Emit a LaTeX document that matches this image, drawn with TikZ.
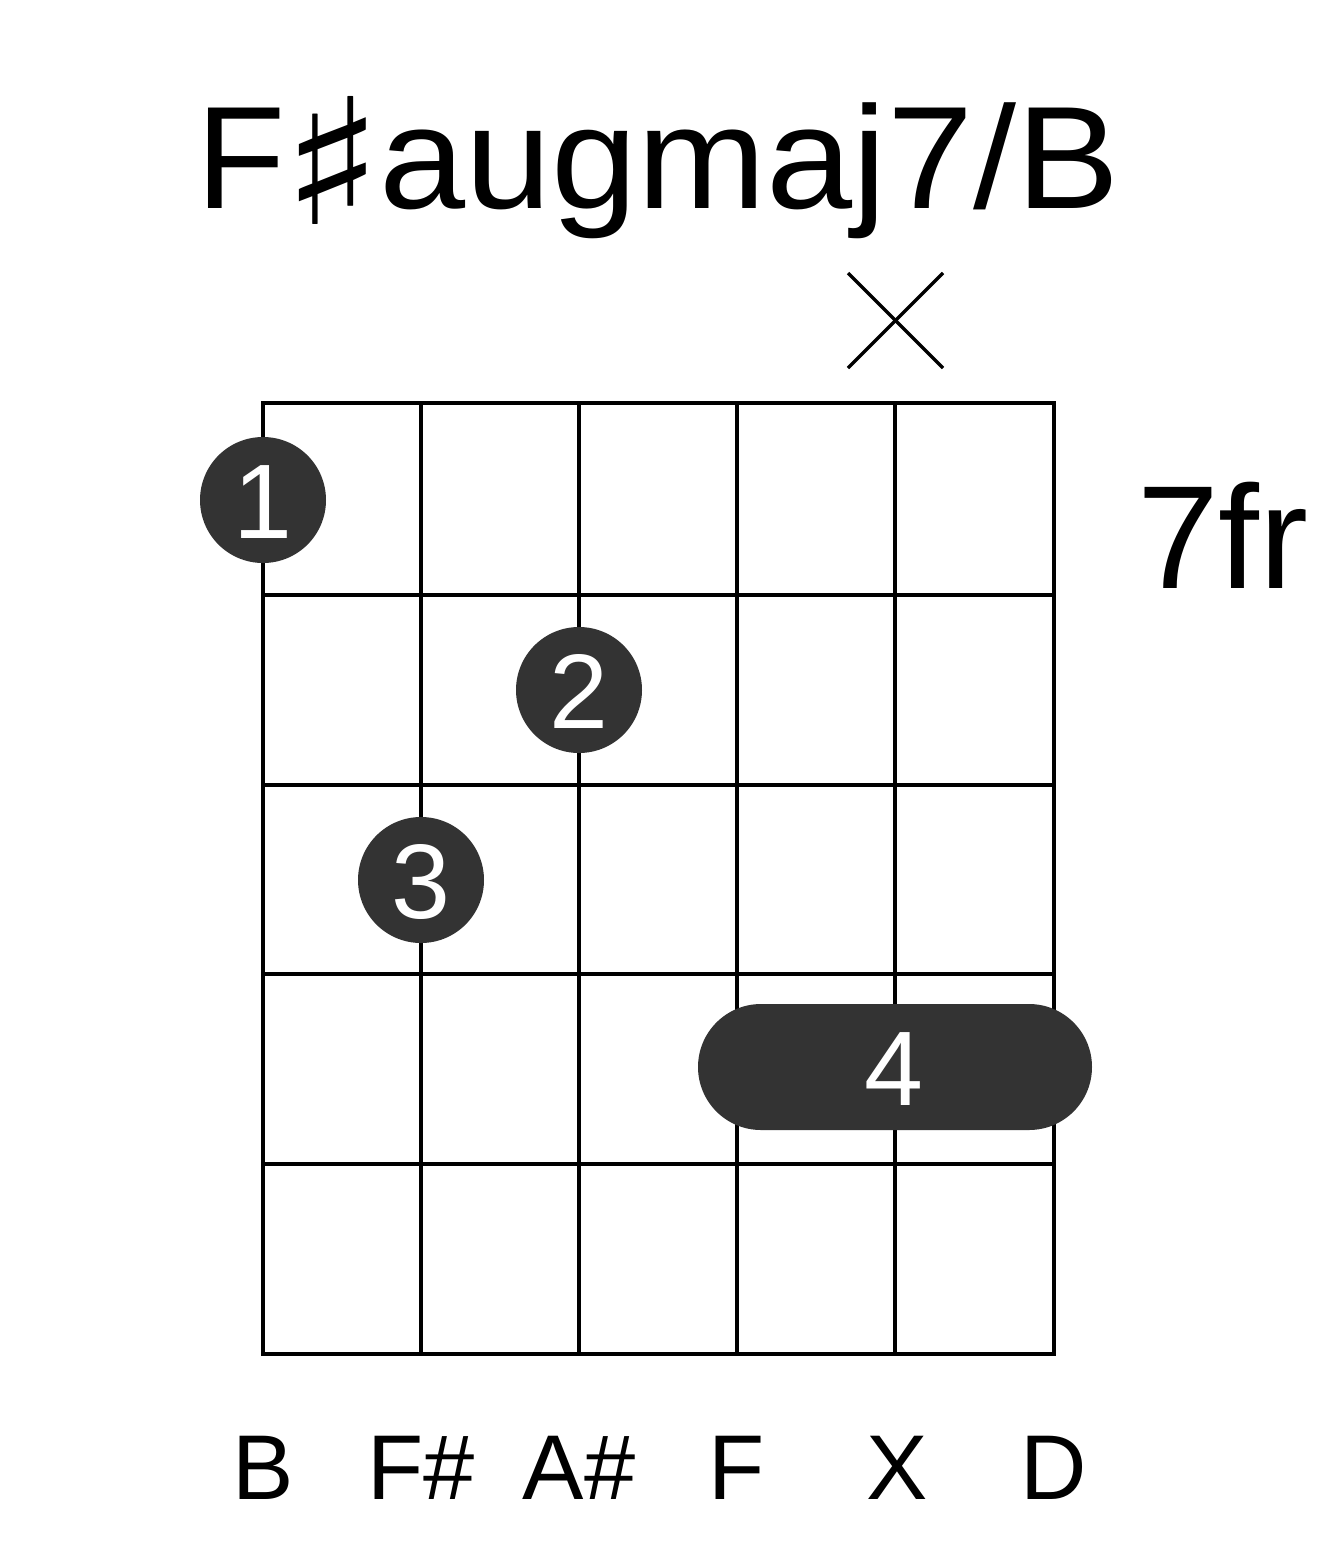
\documentclass[tikz,border=0pt]{standalone}
\usepackage{fontspec}
\setmainfont{Liberation Sans}
\newfontfamily\symfont{DejaVu Sans}
\definecolor{dotgray}{HTML}{333333}
\begin{document}
\begin{tikzpicture}[x=1pt,y=-1pt,
  gridline/.style={line width=4pt},
  fingerdot/.style={circle,fill=dotgray,minimum size=126pt,inner sep=0pt},
  fingernum/.style={anchor=base,text=white,font=\fontsize{106}{106}\selectfont,inner sep=0pt},
  strlabel/.style={anchor=base,font=\fontsize{92}{92}\selectfont,inner sep=0pt},
  mutemark/.style={line width=3.5pt}]
\useasboundingbox (0,0) rectangle (1317,1551);
% title
\node[anchor=base west,inner sep=0pt,font=\fontsize{146}{146}\selectfont] (title) at (196,208) {F\kern-4pt\raisebox{-16pt}{\scalebox{1.45}[1.2]{\symfont\char"266F}}\kern-4pt\scalebox{1.06}[1]{augmaj7/B}};
% fret label
\node[anchor=base west,inner sep=0pt,font=\fontsize{147}{147}\selectfont] (fr) at (1137,588) {7fr};
% grid
\foreach \i/\x in {1/263,2/421,3/579,4/737,5/895,6/1054}{
  \coordinate (s\i t) at (\x,403);
  \coordinate (s\i b) at (\x,1354);
  \draw[gridline] (s\i t) -- (s\i b);
}
\foreach \j/\y in {0/403,1/595,2/785,3/974,4/1164,5/1354}{
  \coordinate (f\j l) at (263,\y);
  \coordinate (f\j r) at (1054,\y);
  \draw[gridline,line cap=rect] (f\j l) -- (f\j r);
}
% mute mark
\coordinate (m1) at (848,273);
\coordinate (m2) at (943,368);
\coordinate (m3) at (848,368);
\coordinate (m4) at (943,273);
\draw[mutemark] (m1) -- (m2);
\draw[mutemark] (m3) -- (m4);
% dots
\node[fingerdot] (d1) at (263,500) {};
\node[fingernum] (n1) at (263,538) {1};
\node[fingerdot] (d2) at (579,690) {};
\node[fingernum] (n2) at (579,728) {2};
\node[fingerdot] (d3) at (421,880) {};
\node[fingernum] (n3) at (421,918) {3};
% barre
\fill[dotgray,rounded corners=63pt] (698,1004) rectangle (1092,1130);
\node[fingernum] (n4) at (894,1105) {4};
% string labels
\foreach \i/\x/\t in {1/263/B,2/421/F\#,3/579/A\#,4/737/F,5/897/X,6/1054/D}{
  \node[strlabel] (l\i) at (\x,1499) {\t};
}
\end{tikzpicture}
\end{document}
